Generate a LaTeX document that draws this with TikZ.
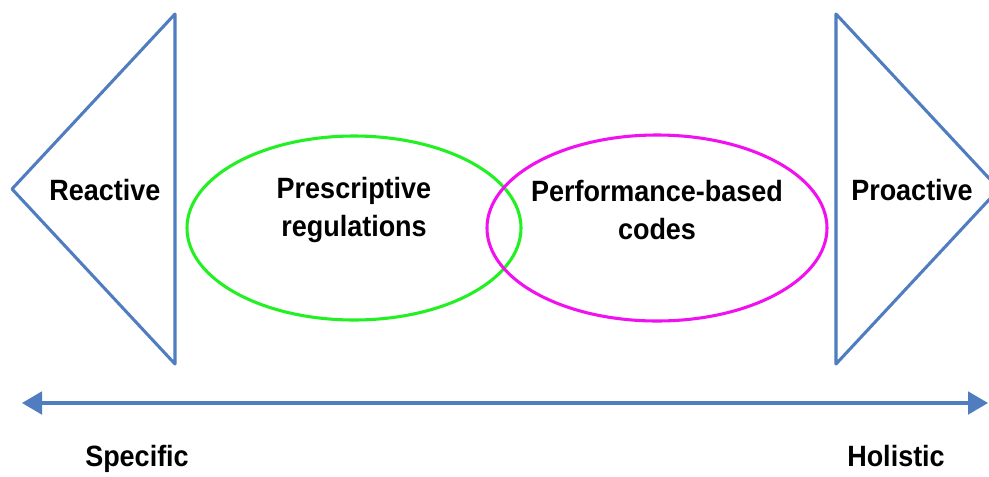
\documentclass[tikz,border=0pt]{standalone}
\usepackage{fontspec}
\setmainfont{Liberation Sans}[FakeStretch=0.92]
\usetikzlibrary{arrows.meta}

\definecolor{axisblue}{HTML}{4F7DC0}
\definecolor{ringgreen}{HTML}{22F022}
\definecolor{ringpink}{HTML}{F010F0}

\tikzset{
  label text/.style={font=\bfseries\fontsize{22}{28.5}\selectfont, align=center, text=black},
  tri/.style={draw=axisblue, line width=2.3pt, line join=round},
}

\begin{document}
\begin{tikzpicture}[x=0.75pt, y=-0.75pt]
        \useasboundingbox (0,0) rectangle (989,476);
        \clip (0,0) rectangle (989,476);

        % Setas laterais
        \draw[tri] (175,14) -- (12,189) -- (175,364) -- cycle;
        \draw[tri] (836,14) -- (999,189) -- (836,364) -- cycle;

        % Elipses
        \draw[ringgreen, line width=2.3pt] (354,228) ellipse [x radius=167, y radius=92];
        \draw[ringpink, line width=2.3pt] (657,228) ellipse [x radius=170, y radius=93];

        % Textos
        \node[label text, anchor=base] (reactive) at (105,200) {Reactive};
        \node[label text, anchor=base] (proactive) at (912,200) {Proactive};
        \node[label text] (prescr) at (354,210) {Prescriptive\\regulations};
        \node[label text] (perf) at (657,210) {Performance-based\\codes};

        % Eixo
        \coordinate (left end) at (22,403);
        \coordinate (right end) at (988,403);
        \draw[axisblue, line width=2.3pt, {Triangle[length=15pt, width=17pt]}-{Triangle[length=15pt, width=17pt]}] (left end) -- (right end);

        \node[label text, anchor=base] (specific) at (137,466) {Specific};
        \node[label text, anchor=base] (holistic) at (896,466) {Holistic};
    \end{tikzpicture}
\end{document}
